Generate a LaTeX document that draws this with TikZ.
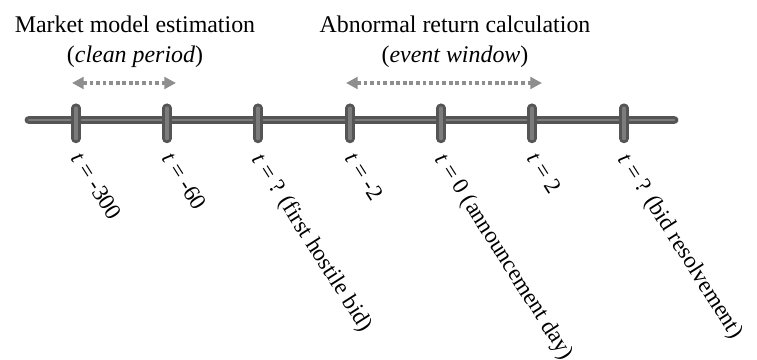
\documentclass[tikz,border=0pt]{standalone}
\usepackage{fontspec}
\setmainfont{Liberation Serif}
\usepackage{xcolor}
\usetikzlibrary{arrows.meta,positioning}

\definecolor{axisdark}{HTML}{555555}
\definecolor{axislight}{HTML}{7C7C7C}
\definecolor{spangray}{HTML}{8E8E8E}

\begin{document}
\begin{tikzpicture}[x=0.015cm,y=-0.015cm,
  every node/.style={inner sep=0pt,font=\fontsize{10.2}{12}\selectfont},
  axis/.style={draw=axisdark,double=axislight,line width=1.3pt,double distance=1.2pt,line cap=round},
  tick/.style={draw=axisdark,double=axislight,line width=1.3pt,double distance=1.3pt,line cap=round},
  span/.style={draw=spangray,line width=1.7pt,dash pattern=on 1.6pt off 1.2pt,
    {Triangle[length=5pt,width=5pt]}-{Triangle[length=5pt,width=5pt]}},
  ticklabel/.style={rotate=-57.5,anchor=north west,font=\fontsize{9.9}{12}\selectfont}]
\useasboundingbox (0,0) rectangle (757,360);

% Headings
\node[anchor=base] (est) at (135,33) {Market model estimation};
\node[anchor=base] (clean) at (135,63) {(\textit{clean period})};
\node[anchor=base] (abn) at (455,33) {Abnormal return calculation};
\node[anchor=base] (window) at (455,63) {(\textit{event window})};

% Time line
\coordinate (start) at (29,120);
\coordinate (end) at (674,120);
\draw[axis] (start) -- (end);

\coordinate (t1) at (76,120);
\coordinate (t2) at (167,120);
\coordinate (t3) at (258,120);
\coordinate (t4) at (350,120);
\coordinate (t5) at (441,120);
\coordinate (t6) at (532,120);
\coordinate (t7) at (624,120);

\draw[tick] ([yshift=0.18cm]t1) -- ([yshift=-0.28cm]t1);
\draw[tick] ([yshift=0.18cm]t2) -- ([yshift=-0.28cm]t2);
\draw[tick] ([yshift=0.18cm]t3) -- ([yshift=-0.28cm]t3);
\draw[tick] ([yshift=0.18cm]t4) -- ([yshift=-0.28cm]t4);
\draw[tick] ([yshift=0.18cm]t5) -- ([yshift=-0.28cm]t5);
\draw[tick] ([yshift=0.18cm]t6) -- ([yshift=-0.28cm]t6);
\draw[tick] ([yshift=0.18cm]t7) -- ([yshift=-0.28cm]t7);

% Windows
\coordinate (c1) at (72,83);
\coordinate (c2) at (176,83);
\coordinate (w1) at (346,83);
\coordinate (w2) at (542,83);
\draw[span] (c1) -- (c2);
\draw[span] (w1) -- (w2);

% Labels
\node[ticklabel] (l1) at ([xshift=0.11cm,yshift=-0.45cm]t1) {\textit{t} = -300};
\node[ticklabel] (l2) at ([xshift=0.11cm,yshift=-0.45cm]t2) {\textit{t} = -60};
\node[ticklabel] (l3) at ([xshift=0.11cm,yshift=-0.45cm]t3) {\textit{t} = ? (first hostile bid)};
\node[ticklabel] (l4) at ([xshift=0.11cm,yshift=-0.45cm]t4) {\textit{t} = -2};
\node[ticklabel] (l5) at ([xshift=0.11cm,yshift=-0.45cm]t5) {\textit{t} = 0 (announcement day)};
\node[ticklabel] (l6) at ([xshift=0.11cm,yshift=-0.45cm]t6) {\textit{t} = 2};
\node[ticklabel] (l7) at ([xshift=0.11cm,yshift=-0.45cm]t7) {\textit{t} = ? (bid resolvement)};
\end{tikzpicture}
\end{document}
